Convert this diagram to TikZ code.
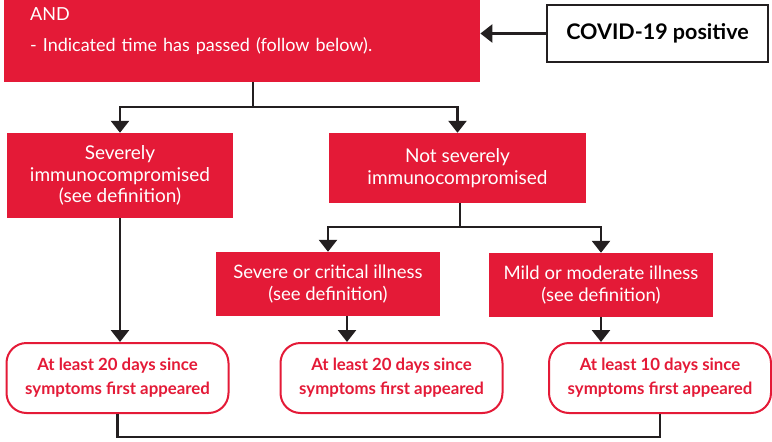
\documentclass[tikz,border=0pt]{standalone}
\usepackage{fontspec}
\setmainfont{Lato}
\usetikzlibrary{arrows.meta}

\definecolor{cdcred}{HTML}{E41A37}
\definecolor{ink}{HTML}{231F20}

\tikzset{
  redbox/.style={fill=cdcred, text=white, inner sep=0pt, align=center,
    font=\fontsize{19pt}{21.5pt}\selectfont},
  timebox/.style={draw=cdcred, line width=2pt, rounded corners=20pt, fill=white,
    text=cdcred, inner sep=0pt, align=center, minimum width=222pt, minimum height=70pt,
    font=\bfseries\fontsize{16.8pt}{24pt}\selectfont},
  conn/.style={draw=ink, line width=2.6pt},
  connarr/.style={conn, -{Triangle[width=18pt,length=12pt]}}
}

\begin{document}
\begin{tikzpicture}[x=1pt, y=-1pt]
  \useasboundingbox (0,0) rectangle (772,442);
  \clip (0,0) rectangle (772,442);

  % top box (cut off above)
  \node[redbox, anchor=south west, minimum width=476pt, text width=424pt,
        inner xsep=26pt, inner ysep=27pt, align=left,
        font=\fontsize{18pt}{31pt}\selectfont] (cond) at (4,82)
    {AND\\- Indicated time has passed (follow below).};

  \node[draw=ink, line width=2pt, minimum width=221pt, minimum height=57pt,
        font=\bfseries\fontsize{21.5pt}{22pt}\selectfont] (covid) at (657.5,33.5)
    {COVID-19 positive};

  % second row
  \node[redbox, minimum width=226pt, minimum height=85pt] (sev) at (120,175.5)
    {Severely\\immunocompromised\\(see definition)};
  \node[redbox, minimum width=257pt, minimum height=70pt] (notsev) at (457.5,168)
    {Not severely\\immunocompromised};

  % third row
  \node[redbox, minimum width=224pt, minimum height=64pt,
        font=\fontsize{18.5pt}{22pt}\selectfont] (crit) at (328,284)
    {Severe or critical illness\\(see definition)};
  \node[redbox, minimum width=224pt, minimum height=64pt,
        font=\fontsize{18.5pt}{22pt}\selectfont] (mild) at (601,285)
    {Mild or moderate illness\\(see definition)};

  % time boxes
  \node[timebox] (days1) at (117.5,378) {At least 20 days since\\symptoms first appeared};
  \node[timebox] (days2) at (391.5,378) {At least 20 days since\\symptoms first appeared};
  \node[timebox] (days3) at (660,378)   {At least 10 days since\\symptoms first appeared};

  \coordinate (split1) at (253,107);
  \coordinate (split2) at (460,227);
  \coordinate (tap2)   at (347,316);
  \coordinate (merge)  at (391,437);

  % connectors
  \draw[connarr] (covid.west) -- (covid.west -| cond.east);
  \draw[conn] (split1 |- cond.south) -- (split1);
  \draw[connarr] (split1) -| (sev.north);
  \draw[connarr] (split1) -| (notsev.north);
  \draw[conn] (split2 |- notsev.south) -- (split2);
  \draw[connarr] (split2) -| (crit.north);
  \draw[connarr] (split2) -| (mild.north);
  \draw[connarr] (sev.south) -- (sev.south |- days1.north);
  \draw[connarr] (tap2) -- (tap2 |- days2.north);
  \draw[connarr] (mild.south) -- (mild.south |- days3.north);
  \draw[conn] (days1.south) |- (merge) -| (days3.south);
\end{tikzpicture}
\end{document}
